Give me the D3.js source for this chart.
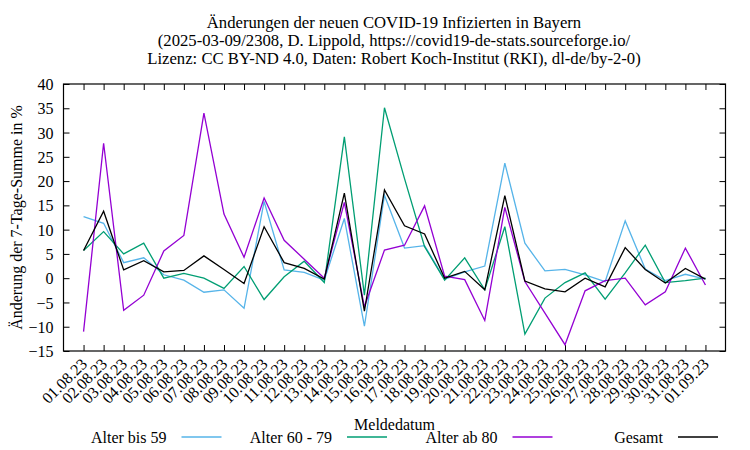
<!DOCTYPE html>
<html><head><meta charset="utf-8">
<script src="https://cdn.jsdelivr.net/npm/d3@7"></script>
<style>body{margin:0;background:#fff}svg{display:block}text{font-family:"Liberation Serif","Times New Roman",serif;fill:#000}</style>
</head><body><svg id="c" width="750" height="450"></svg>
<script>
const dates = ["01.08.23","02.08.23","03.08.23","04.08.23","05.08.23","06.08.23","07.08.23","08.08.23","09.08.23","10.08.23","11.08.23","12.08.23","13.08.23","14.08.23","15.08.23","16.08.23","17.08.23","18.08.23","19.08.23","20.08.23","21.08.23","22.08.23","23.08.23","24.08.23","25.08.23","26.08.23","27.08.23","28.08.23","29.08.23","30.08.23","31.08.23","01.09.23"];
const bis59 = [12.7,11.3,3.2,4.2,0.7,-0.4,-2.9,-2.4,-6.2,15.8,1.7,1.2,-0.4,12.3,-9.9,17.1,6.2,6.7,-0.2,1.3,2.5,23.7,7.2,1.5,1.8,0.7,-0.7,11.8,1.9,-0.5,0.8,-0.2];
const a6079 = [5.7,9.6,5.0,7.2,0.0,1.0,0.0,-2.1,2.4,-4.4,0.3,3.5,-0.9,29.1,-3.5,35.1,20.5,6.5,-0.4,4.2,-2.4,10.6,-11.5,-4.1,-0.9,1.1,-4.3,1.1,6.8,-0.9,-0.5,0.0];
const ab80 = [-11.0,27.8,-6.6,-3.5,5.6,8.8,34.0,13.2,4.3,16.5,7.8,3.9,0.0,15.6,-5.9,5.8,6.8,14.9,0.4,-0.3,-8.7,14.6,-0.7,-7.2,-13.7,-2.6,-0.5,0.0,-5.5,-2.8,6.2,-1.4];
const gesamt = [5.7,13.8,1.7,3.6,1.3,1.6,4.6,1.8,-1.1,10.6,3.2,2.0,-0.2,17.5,-6.8,18.2,10.8,9.1,0.0,1.4,-2.4,17.0,-0.6,-2.2,-2.8,0.0,-1.8,6.3,1.8,-1.0,2.0,-0.2];
const yTicks = [-15,-10,-5,0,5,10,15,20,25,30,35,40];
const seriesNames = ["Alter bis 59","Alter 60 - 79","Alter ab 80","Gesamt"];
const seriesColors = ["#56b4e9","#009e73","#9400d3","#000000"];
const titleLines = ["Änderungen der neuen COVID-19 Infizierten in Bayern","(2025-03-09/2308, D. Lippold, https://covid19-de-stats.sourceforge.io/","Lizenz: CC BY-ND 4.0, Daten: Robert Koch-Institut (RKI), dl-de/by-2-0)"];

const svg = d3.select("#c");
const L = 63.5, R = 725.5, T = 84, B = 351;
const x = d3.scaleLinear().domain([-1, dates.length]).range([L, R]);
const y = d3.scaleLinear().domain([-15, 40]).range([B, T]);
const fs = 16;

// title
svg.append("g").selectAll("text").data(titleLines).join("text")
  .attr("x", 394).attr("y", (d,i)=>28+i*18).attr("text-anchor","middle")
  .attr("font-size", 16.7).text(d=>d);

// axes
const ay = svg.append("g").attr("transform",`translate(${L},0)`)
  .call(d3.axisLeft(y).tickValues(yTicks).tickSize(-6).tickPadding(10).tickFormat(d3.format("d")));
const ay2 = svg.append("g").attr("transform",`translate(${R},0)`)
  .call(d3.axisRight(y).tickValues(yTicks).tickSize(-6).tickFormat(""));
const ax = svg.append("g").attr("transform",`translate(0,${B})`)
  .call(d3.axisBottom(x).tickValues(d3.range(dates.length)).tickSize(-6).tickFormat(i=>dates[i]));
const ax2 = svg.append("g").attr("transform",`translate(0,${T})`)
  .call(d3.axisTop(x).tickValues(d3.range(dates.length)).tickSize(-6).tickFormat(""));
[ay,ay2,ax,ax2].forEach(g=>{g.select(".domain").remove();g.selectAll("line").attr("stroke","#000");g.selectAll("text").attr("font-size",fs).attr("font-family","Liberation Serif");});
ay.selectAll("text").attr("dy","0.35em");
ax.selectAll("text").attr("text-anchor","end").attr("dy","0")
  .attr("transform","translate(4,14) rotate(-45)").attr("y",0).attr("x",0);

// frame
svg.append("rect").attr("x",L).attr("y",T).attr("width",R-L).attr("height",B-T)
  .attr("fill","none").attr("stroke","#000").attr("stroke-width",1.2);

// lines
const data = [bis59,a6079,ab80,gesamt];
const line = d3.line().x((d,i)=>x(i)).y(d=>y(d));
svg.append("g").selectAll("path").data(data).join("path")
  .attr("d", line).attr("fill","none")
  .attr("stroke",(d,i)=>seriesColors[i]).attr("stroke-width",1.3);

// axis labels
svg.append("text").attr("transform",`translate(22,${(T+B)/2}) rotate(-90)`)
  .attr("text-anchor","middle").attr("font-size",fs).text("Änderung der 7-Tage-Summe in %");
svg.append("text").attr("x",(L+R)/2).attr("y",430).attr("text-anchor","middle")
  .attr("font-size",fs).text("Meldedatum");

// legend
const lg = svg.append("g").selectAll("g").data(seriesNames).join("g")
  .attr("transform",(d,i)=>`translate(${181.5+i*165.5},0)`);
lg.append("text").attr("x",-15).attr("y",443).attr("text-anchor","end").attr("font-size",fs).text(d=>d);
lg.append("line").attr("x1",0).attr("x2",40).attr("y1",437).attr("y2",437)
  .attr("stroke",(d,i)=>seriesColors[i]).attr("stroke-width",1.3);
</script></body></html>
